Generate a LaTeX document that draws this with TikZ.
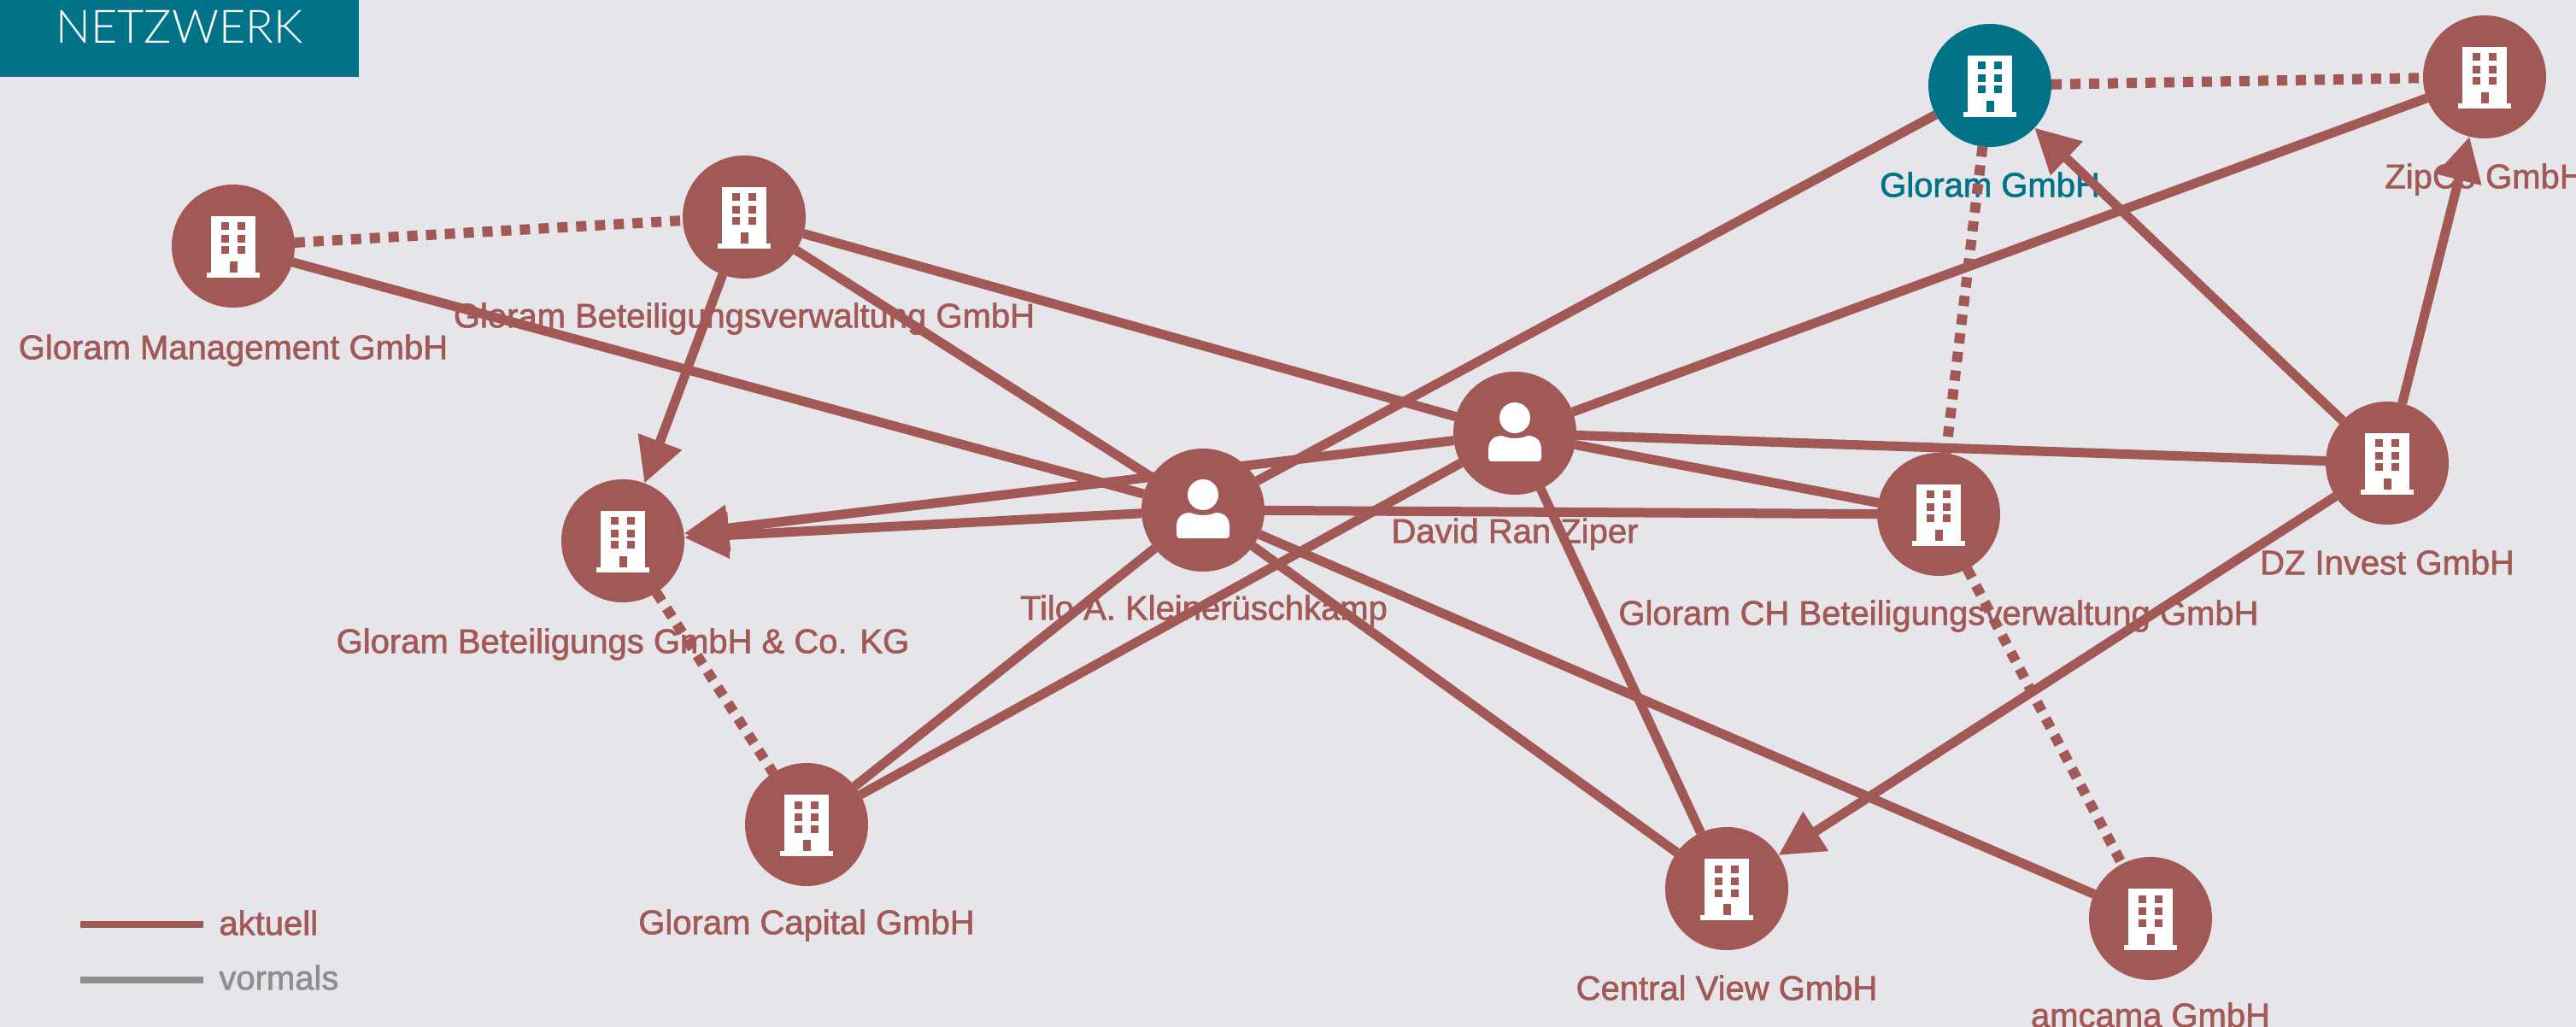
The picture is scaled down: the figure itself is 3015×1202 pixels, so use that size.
\documentclass[tikz,border=0pt]{standalone}
\usepackage{fontspec}
\setmainfont{Liberation Sans}
\newfontfamily\labf{Liberation Sans}[FakeBold=1.5]
\newfontfamily\lightf{Lato Light}
\usetikzlibrary{arrows.meta}
\definecolor{bgc}{HTML}{E5E5EA}
\definecolor{maroon}{HTML}{A25855}
\definecolor{tealc}{HTML}{007388}
\definecolor{greyc}{HTML}{8E8E8E}
\pgfdeclarelayer{bg}
\pgfdeclarelayer{labels}
\pgfdeclarelayer{edges}
\pgfsetlayers{bg,labels,edges,main}
\tikzset{
  x=0.5pt,y=-0.5pt,
  ent/.style={circle,fill=#1,draw=none,minimum size=72pt,inner sep=0pt,outer sep=0pt},
  ent/.default=maroon,
  lab/.style={font=\labf\fontsize{20}{23}\selectfont,text=#1,inner sep=0pt},
  lab/.default=maroon,
  cur/.style={draw=maroon,line width=5.5pt},
  dot/.style={draw=maroon,line width=6pt,dash pattern=on 6pt off 5pt},
  arr/.style={cur,-{Triangle[length=26pt,width=26pt]}},
  bldg/.pic={
    \fill[white] (-26,-35) rectangle (26,33);
    \fill[white] (-31,31) rectangle (31,37);
    \foreach \yy in {-23,-8.5,5}{
      \fill[#1] (-14,\yy-4.5) rectangle (-5,\yy+4.5);
      \fill[#1] (5,\yy-4.5) rectangle (14,\yy+4.5);
    }
    \fill[#1] (-4.5,18) rectangle (4.5,31);
  },
  pers/.pic={
    \fill[white] (0,-18) circle (9pt);
    \fill[white] (-31,29) -- (-31,19) .. controls (-31,8) and (-24,3) .. (-15,3)
       .. controls (-6,7) and (6,7) .. (15,3) .. controls (24,3) and (31,8) .. (31,19)
       -- (31,29) .. controls (31,32) and (29,33) .. (27,33) -- (-27,33)
       .. controls (-29,33) and (-31,32) .. (-31,29) -- cycle;
  },
}
\begin{document}
\begin{tikzpicture}
\useasboundingbox (0,0) rectangle (3015,1202);
\begin{pgfonlayer}{bg}
\fill[bgc] (0,0) rectangle (3015,1202);
\end{pgfonlayer}
\node[fill=tealc,minimum width=210pt,minimum height=45pt,inner sep=0pt,outer sep=0pt,anchor=north west] (banner) at (0,0) {};
\node[text=white,inner sep=0pt,font=\lightf\fontsize{27}{30}\selectfont] (title) at (210,31) {NETZWERK};

\node[ent] (mgmt) at (273,288) {};
\node[ent] (verw) at (871,254) {};
\node[ent] (kg) at (729,633) {};
\node[ent] (cap) at (944,965) {};
\node[ent] (tilo) at (1408,597) {};
\node[ent] (david) at (1773,507) {};
\node[ent] (ch) at (2269,602) {};
\node[ent] (dz) at (2794,542) {};
\node[ent=tealc] (glo) at (2329,100) {};
\node[ent] (zip) at (2908,90) {};
\node[ent] (central) at (2021,1040) {};
\node[ent] (amc) at (2517,1075) {};

\foreach \n in {mgmt,verw,kg,cap,ch,dz,zip,central,amc}
  \pic at (\n) {bldg=maroon};
\pic at (glo) {bldg=tealc};
\pic at (tilo) {pers};
\pic at (david) {pers};

\begin{pgfonlayer}{labels}
\node[lab] (lmgmt) at (273,410) {Gloram Management GmbH};
\node[lab] (lverw) at (871,373) {Gloram Beteiligungsverwaltung GmbH};
\node[lab] (lkg) at (729,754) {Gloram Beteiligungs GmbH \& Co. KG};
\node[lab] (lcap) at (944,1083) {Gloram Capital GmbH};
\node[lab] (ltilo) at (1409,715) {Tilo A. Kleinerüschkamp};
\node[lab] (ldavid) at (1773,625) {David Ran Ziper};
\node[lab] (lch) at (2269,721) {Gloram CH Beteiligungsverwaltung GmbH};
\node[lab] (ldz) at (2794,658) {DZ Invest GmbH};
\node[lab=tealc] (lglo) at (2329,216) {Gloram GmbH};
\node[lab] (lzip) at (2908,210) {ZipCo GmbH};
\node[lab] (lcentral) at (2021,1156) {Central View GmbH};
\node[lab] (lamc) at (2517,1188) {amcama GmbH};
\end{pgfonlayer}

\begin{pgfonlayer}{edges}
\draw[dot] (mgmt) -- (verw);
\draw[dot] (glo) -- (zip);
\draw[dot] (glo) -- (ch);
\draw[dot] (ch) -- (amc);
\draw[dot] (kg) -- (cap);
\draw[cur] (mgmt) -- (tilo);
\draw[cur] (verw) -- (tilo);
\draw[cur] (verw) -- (david);
\draw[cur] (tilo) -- (glo);
\draw[cur] (david) -- (zip);
\draw[cur] (david) -- (dz);
\draw[cur] (david) -- (ch);
\draw[cur] (tilo) -- (ch);
\draw[cur] (david) -- (central);
\draw[cur] (david) -- (cap);
\draw[cur] (tilo) -- (cap);
\draw[cur] (tilo) -- (central);
\draw[cur] (tilo) -- (amc);
\draw[arr] (verw) -- (kg);
\draw[arr] (tilo) -- (kg);
\draw[arr] (david) -- (kg);
\draw[arr] (dz) -- (glo);
\draw[arr] (dz) -- (zip);
\draw[arr] (dz) -- (central);
\end{pgfonlayer}

\coordinate (a1) at (94,1082);
\coordinate (a2) at (238,1082);
\coordinate (v1) at (94,1147);
\coordinate (v2) at (238,1147);
\draw[draw=maroon,line width=4pt] (a1) -- (a2);
\draw[draw=greyc,line width=4pt] (v1) -- (v2);
\node[lab,anchor=west] (laktuell) at (256,1080) {aktuell};
\node[lab=greyc,anchor=west] (lvormals) at (256,1144) {vormals};
\end{tikzpicture}
\end{document}
